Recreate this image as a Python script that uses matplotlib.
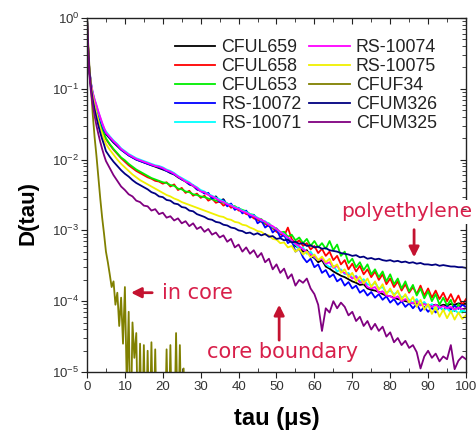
import numpy as np
import matplotlib
matplotlib.use('Agg')
import matplotlib.pyplot as plt

plt.rcParams['font.family'] = ['Liberation Sans', 'DejaVu Sans']

# time grid (us): fine steps during the fast initial drop, then 1 us
tau_early = [0, 0.3, 0.6, 1, 1.5, 2, 2.5, 3, 3.5, 4, 4.5]
tau = tau_early + list(range(5, 101))
tau_f34 = tau_early + list(np.arange(5, 27.01, 0.5))

# log10 D(tau)
cful659 = [0, -0.42, -0.72, -0.92, -1.07, -1.17, -1.26, -1.35, -1.43, -1.51, -1.58,
           -1.64, -1.70, -1.76, -1.81, -1.86, -1.90, -1.94, -1.97, -2.00, -2.02,
           -2.04, -2.06, -2.08, -2.10, -2.12, -2.14, -2.16, -2.19, -2.21, -2.25,
           -2.28, -2.31, -2.35, -2.37, -2.42, -2.44, -2.47, -2.48, -2.54, -2.52,
           -2.58, -2.56, -2.64, -2.63, -2.69, -2.70, -2.74, -2.73, -2.79, -2.80,
           -2.84, -2.87, -2.89, -2.93, -2.95, -3.00, -3.04, -3.06, -3.13, -3.16,
           -3.22, -3.25, -3.30, -3.28, -3.36, -3.39, -3.45, -3.42, -3.51, -3.54,
           -3.58, -3.61, -3.64, -3.66, -3.69, -3.72, -3.74, -3.77, -3.76, -3.82,
           -3.84, -3.85, -3.87, -3.90, -3.92, -3.93, -3.95, -3.97, -3.98, -4.00,
           -4.01, -4.03, -4.03, -4.05, -4.04, -4.06, -4.06, -4.05, -4.07, -4.05,
           -4.06, -4.04, -4.05, -4.03, -4.04, -4.03]
cful658 = [0, -0.42, -0.72, -0.93, -1.09, -1.21, -1.31, -1.41, -1.50, -1.58, -1.65,
           -1.71, -1.79, -1.86, -1.92, -1.98, -2.03, -2.08, -2.12, -2.16, -2.19,
           -2.22, -2.25, -2.27, -2.30, -2.31, -2.34, -2.32, -2.38, -2.35, -2.43,
           -2.40, -2.47, -2.44, -2.51, -2.48, -2.54, -2.51, -2.58, -2.55, -2.61,
           -2.59, -2.65, -2.62, -2.68, -2.66, -2.72, -2.72, -2.77, -2.78, -2.83,
           -2.85, -2.88, -2.91, -2.94, -2.97, -3.02, -3.05, -3.08, -2.96, -3.12,
           -3.18, -3.14, -3.22, -3.18, -3.27, -3.22, -3.32, -3.26, -3.36, -3.30,
           -3.42, -3.36, -3.48, -3.42, -3.55, -3.47, -3.58, -3.50, -3.62, -3.55,
           -3.66, -3.58, -3.70, -3.62, -3.76, -3.68, -3.80, -3.72, -3.85, -3.76,
           -3.88, -3.80, -3.90, -3.78, -3.92, -3.82, -3.95, -3.85, -3.97, -3.88,
           -4.00, -3.90, -4.02, -3.92, -4.05, -3.97]
cful653 = [0, -0.42, -0.72, -0.93, -1.09, -1.20, -1.30, -1.40, -1.49, -1.57, -1.64,
           -1.70, -1.78, -1.85, -1.91, -1.97, -2.01, -2.06, -2.10, -2.14, -2.17,
           -2.20, -2.23, -2.26, -2.28, -2.30, -2.32, -2.33, -2.36, -2.37, -2.41,
           -2.42, -2.45, -2.46, -2.49, -2.50, -2.52, -2.53, -2.55, -2.56, -2.58,
           -2.59, -2.61, -2.62, -2.65, -2.66, -2.69, -2.71, -2.73, -2.77, -2.78,
           -2.83, -2.84, -2.90, -2.90, -2.96, -2.97, -3.03, -3.02, -3.09, -3.06,
           -3.14, -3.10, -3.18, -3.12, -3.22, -3.15, -3.24, -3.18, -3.26, -3.15,
           -3.28, -3.20, -3.36, -3.30, -3.46, -3.40, -3.52, -3.45, -3.56, -3.48,
           -3.62, -3.55, -3.66, -3.58, -3.72, -3.62, -3.76, -3.68, -3.82, -3.72,
           -3.86, -3.77, -3.92, -3.82, -3.96, -3.86, -4.00, -3.90, -4.05, -3.95,
           -4.06, -3.98, -4.14, -4.04, -4.16, -4.08]
rs10072 = [0, -0.42, -0.72, -0.92, -1.07, -1.18, -1.27, -1.36, -1.44, -1.52, -1.59,
           -1.63, -1.69, -1.75, -1.80, -1.86, -1.90, -1.94, -1.97, -2.00, -2.02,
           -2.04, -2.06, -2.08, -2.09, -2.11, -2.13, -2.16, -2.18, -2.21, -2.24,
           -2.28, -2.30, -2.35, -2.36, -2.42, -2.44, -2.48, -2.47, -2.55, -2.53,
           -2.60, -2.57, -2.66, -2.62, -2.71, -2.68, -2.76, -2.72, -2.82, -2.78,
           -2.90, -2.86, -2.96, -2.92, -3.03, -2.98, -3.10, -3.06, -3.18, -3.14,
           -3.30, -3.26, -3.38, -3.45, -3.40, -3.52, -3.48, -3.60, -3.56, -3.66,
           -3.62, -3.72, -3.68, -3.78, -3.73, -3.82, -3.78, -3.88, -3.84, -3.92,
           -3.87, -3.95, -3.90, -3.98, -3.93, -4.02, -3.97, -4.05, -4.00, -4.08,
           -4.03, -4.10, -4.04, -4.14, -4.08, -4.15, -4.09, -4.16, -4.08, -4.13,
           -4.07, -4.12, -4.06, -4.11, -4.05, -4.08]
rs10071 = [0, -0.40, -0.70, -0.90, -1.05, -1.15, -1.24, -1.33, -1.41, -1.49, -1.56,
           -1.60, -1.67, -1.73, -1.78, -1.84, -1.88, -1.92, -1.95, -1.98, -2.00,
           -2.02, -2.04, -2.06, -2.08, -2.09, -2.11, -2.14, -2.16, -2.19, -2.23,
           -2.26, -2.29, -2.32, -2.36, -2.39, -2.43, -2.45, -2.49, -2.51, -2.54,
           -2.56, -2.59, -2.62, -2.64, -2.67, -2.69, -2.72, -2.74, -2.77, -2.79,
           -2.82, -2.86, -2.87, -2.91, -2.95, -2.98, -3.03, -3.05, -3.12, -3.15,
           -3.20, -3.26, -3.24, -3.33, -3.30, -3.38, -3.42, -3.39, -3.48, -3.52,
           -3.50, -3.58, -3.55, -3.62, -3.60, -3.67, -3.64, -3.72, -3.69, -3.76,
           -3.78, -3.74, -3.82, -3.80, -3.88, -3.85, -3.90, -3.87, -3.95, -3.92,
           -3.98, -4.02, -3.97, -4.05, -4.01, -4.08, -4.04, -4.12, -4.07, -4.13,
           -4.10, -4.16, -4.12, -4.17, -4.13, -4.15]
rs10074 = [0, -0.40, -0.70, -0.90, -1.05, -1.15, -1.23, -1.32, -1.40, -1.48, -1.55,
           -1.62, -1.68, -1.74, -1.79, -1.85, -1.89, -1.93, -1.96, -1.99, -2.01,
           -2.03, -2.05, -2.07, -2.09, -2.10, -2.12, -2.15, -2.17, -2.20, -2.24,
           -2.27, -2.31, -2.33, -2.37, -2.40, -2.45, -2.46, -2.50, -2.52, -2.55,
           -2.58, -2.60, -2.63, -2.65, -2.68, -2.70, -2.73, -2.75, -2.78, -2.80,
           -2.83, -2.85, -2.88, -2.92, -2.94, -2.98, -3.02, -3.06, -3.10, -3.14,
           -3.19, -3.22, -3.27, -3.30, -3.34, -3.37, -3.42, -3.40, -3.47, -3.45,
           -3.53, -3.50, -3.58, -3.60, -3.63, -3.68, -3.65, -3.74, -3.72, -3.80,
           -3.82, -3.80, -3.88, -3.86, -3.92, -3.93, -3.96, -3.93, -4.00, -3.97,
           -4.01, -4.03, -4.00, -4.06, -4.04, -4.06, -4.08, -4.05, -4.09, -4.07,
           -4.10, -4.08, -4.12, -4.09, -4.11, -4.10]
rs10075 = [0, -0.40, -0.72, -0.93, -1.10, -1.23, -1.34, -1.45, -1.55, -1.63, -1.71,
           -1.78, -1.86, -1.93, -2.00, -2.06, -2.11, -2.16, -2.21, -2.25, -2.29,
           -2.32, -2.35, -2.38, -2.41, -2.44, -2.47, -2.50, -2.52, -2.55, -2.57,
           -2.60, -2.62, -2.64, -2.66, -2.68, -2.70, -2.72, -2.74, -2.76, -2.78,
           -2.80, -2.81, -2.84, -2.85, -2.88, -2.89, -2.92, -2.93, -2.96, -2.98,
           -3.01, -3.02, -3.06, -3.07, -3.12, -3.13, -3.18, -3.17, -3.24, -3.22,
           -3.30, -3.26, -3.34, -3.30, -3.38, -3.34, -3.42, -3.37, -3.45, -3.40,
           -3.52, -3.48, -3.60, -3.55, -3.66, -3.60, -3.72, -3.65, -3.75, -3.68,
           -3.80, -3.72, -3.84, -3.76, -3.90, -3.82, -3.93, -3.85, -3.98, -3.90,
           -4.02, -3.94, -4.08, -3.98, -4.12, -4.04, -4.18, -4.08, -4.22, -4.12,
           -4.24, -4.14, -4.26, -4.16, -4.25, -4.20]
cfuf34 = [0, -0.35, -0.65, -0.95, -1.35, -1.68, -1.95, -2.25, -2.55, -2.82, -3.05,
          -3.30, -3.45, -3.62, -3.80, -3.72, -4.05, -3.88, -4.35, -3.95, -4.60,
          -3.80, -5.20, -4.15, -6.00, -4.30, -4.80, -4.45, -6.00, -4.60, -6.00,
          -4.62, -6.00, -4.70, -6.00, -4.58, -6.00, -4.68, -6.00, -6.00, -6.00,
          -6.00, -6.00, -4.68, -6.00, -4.62, -6.00, -6.00, -4.45, -6.00, -4.62,
          -6.00, -4.95, -6.00, -6.00, -6.00]
cfum326 = [0, -0.45, -0.75, -0.97, -1.15, -1.29, -1.41, -1.52, -1.62, -1.71, -1.79,
           -1.88, -1.96, -2.03, -2.09, -2.15, -2.20, -2.24, -2.29, -2.33, -2.36,
           -2.39, -2.42, -2.46, -2.48, -2.52, -2.53, -2.57, -2.58, -2.62, -2.63,
           -2.67, -2.68, -2.72, -2.73, -2.77, -2.79, -2.81, -2.84, -2.85, -2.88,
           -2.89, -2.92, -2.93, -2.96, -2.97, -3.00, -3.01, -3.04, -3.03, -3.06,
           -3.04, -3.07, -3.05, -3.09, -3.08, -3.12, -3.11, -3.14, -3.13, -3.17,
           -3.16, -3.19, -3.18, -3.22, -3.21, -3.24, -3.23, -3.26, -3.25, -3.28,
           -3.29, -3.30, -3.32, -3.33, -3.34, -3.36, -3.35, -3.38, -3.37, -3.40,
           -3.39, -3.41, -3.40, -3.42, -3.43, -3.42, -3.44, -3.43, -3.45, -3.44,
           -3.46, -3.45, -3.47, -3.46, -3.48, -3.48, -3.49, -3.48, -3.50, -3.49,
           -3.50, -3.51, -3.51, -3.52, -3.52, -3.53]
cfum325 = [0, -0.45, -0.78, -1.02, -1.22, -1.38, -1.52, -1.64, -1.75, -1.85, -1.94,
           -2.02, -2.12, -2.22, -2.30, -2.38, -2.43, -2.49, -2.52, -2.58, -2.60,
           -2.65, -2.66, -2.72, -2.70, -2.77, -2.75, -2.82, -2.80, -2.86, -2.83,
           -2.90, -2.87, -2.94, -2.90, -2.98, -2.95, -3.02, -2.98, -3.06, -3.03,
           -3.10, -3.07, -3.16, -3.12, -3.24, -3.20, -3.30, -3.24, -3.33, -3.28,
           -3.38, -3.32, -3.45, -3.40, -3.55, -3.48, -3.60, -3.54, -3.68, -3.62,
           -3.78, -3.70, -3.74, -3.68, -3.82, -3.90, -4.05, -4.42, -4.10, -4.16,
           -4.00, -4.10, -4.02, -4.08, -4.20, -4.15, -4.28, -4.22, -4.35, -4.28,
           -4.40, -4.32, -4.42, -4.36, -4.50, -4.44, -4.58, -4.52, -4.62, -4.56,
           -4.66, -4.62, -4.72, -4.95, -4.78, -4.70, -4.80, -4.74, -4.85, -4.78,
           -4.82, -4.62, -4.96, -4.84, -4.78, -4.82]

labels = ['CFUL659', 'CFUL658', 'CFUL653', 'RS-10072', 'RS-10071',
          'RS-10074', 'RS-10075', 'CFUF34', 'CFUM326', 'CFUM325']
series = [cful659, cful658, cful653, rs10072, rs10071,
          rs10074, rs10075, cfuf34, cfum326, cfum325]
colors = ['#000000', '#ff0000', '#00ee00', '#0000ff', '#00ffff',
          '#ff00ff', '#f0f000', '#808000', '#000080', '#800080']

fig = plt.figure(figsize=(4.77, 4.34), dpi=100)
ax = fig.add_axes([87/477, 62/434, 379/477, 354/434])

for lab, ys, c in zip(labels, series, colors):
    xs = tau_f34 if lab == 'CFUF34' else tau
    ax.plot(xs, 10.0 ** np.array(ys), color=c, lw=1.3, label=lab)

ax.set_yscale('log')
ax.set_xlim(0, 100)
ax.set_ylim(1e-5, 1)
ax.set_xticks(range(0, 101, 10))
ax.set_xticks(range(5, 100, 10), minor=True)

for s in ax.spines.values():
    s.set_color('#222222')
    s.set_linewidth(1.0)
ax.tick_params(which='both', colors='#222222', labelcolor='#333333', labelsize=9.5)
ax.tick_params(axis='x', which='major', direction='out', length=4, pad=2.5)
ax.tick_params(axis='x', which='minor', direction='in', length=3)
ax.tick_params(axis='y', which='major', direction='out', length=4.5, pad=1)
ax.tick_params(axis='y', which='minor', direction='out', length=3)
# mirrored ticks on top and right, pointing inward
ax2 = ax.twinx()
ax2.set_yscale('log')
ax2.set_ylim(1e-5, 1)
ax2.tick_params(which='both', direction='in', colors='#222222', labelright=False)
ax2.tick_params(which='major', length=4.5)
ax2.tick_params(which='minor', length=3)
ax3 = ax.twiny()
ax3.set_xlim(0, 100)
ax3.set_xticks(range(0, 101, 10))
ax3.set_xticks(range(5, 100, 10), minor=True)
ax3.tick_params(which='both', direction='in', colors='#222222', labeltop=False)
ax3.tick_params(which='major', length=4.5)
ax3.tick_params(which='minor', length=3)
for a in (ax2, ax3):
    for s in a.spines.values():
        s.set_visible(False)

leg = ax.legend(ncol=2, loc='upper left', bbox_to_anchor=(175/477, 1 - 39/434),
                bbox_transform=fig.transFigure, frameon=False, fontsize=12.8,
                borderpad=0, borderaxespad=0, handlelength=2.27, handletextpad=0.33,
                columnspacing=0.45, labelspacing=0.11)
for t in leg.get_texts():
    t.set_color('#222222')

fig.text(28/477, 1 - 213/434, 'D(tau)', rotation=90, ha='center', va='center',
         fontsize=16, fontweight='bold')
fig.text(277/477, 1 - 418/434, 'tau (\u03bcs)', ha='center', va='center',
         fontsize=17, fontweight='bold')

txt_c = '#d81f4a'
arr_c = '#c41230'
note_font = dict(family='DejaVu Sans', fontsize=15, color=txt_c)
arrow = dict(arrowstyle='-|>,head_length=0.6,head_width=0.3', color=arr_c, lw=2,
             mutation_scale=10, shrinkA=0, shrinkB=0)

ax.annotate('', xy=(11.6, 10**-3.88), xytext=(17.2, 10**-3.88), arrowprops=arrow)
ax.text(19.8, 10**-3.88, 'in core', ha='left', va='center', **note_font)

ax.annotate('', xy=(50.7, 10**-4.05), xytext=(50.7, 10**-4.55), arrowprops=arrow)
ax.text(51.6, 10**-4.72, 'core boundary', ha='center', va='center', **note_font)

ax.annotate('', xy=(86.3, 10**-3.38), xytext=(86.3, 10**-2.99), arrowprops=arrow)
ax.text(67.0, 10**-2.74, 'polyethylene', ha='left', va='center', clip_on=False,
        zorder=5, bbox=dict(facecolor='white', edgecolor='none', pad=2),
        family='DejaVu Sans', fontsize=14.5, color=txt_c)

fig.savefig('out.png', dpi=100)
